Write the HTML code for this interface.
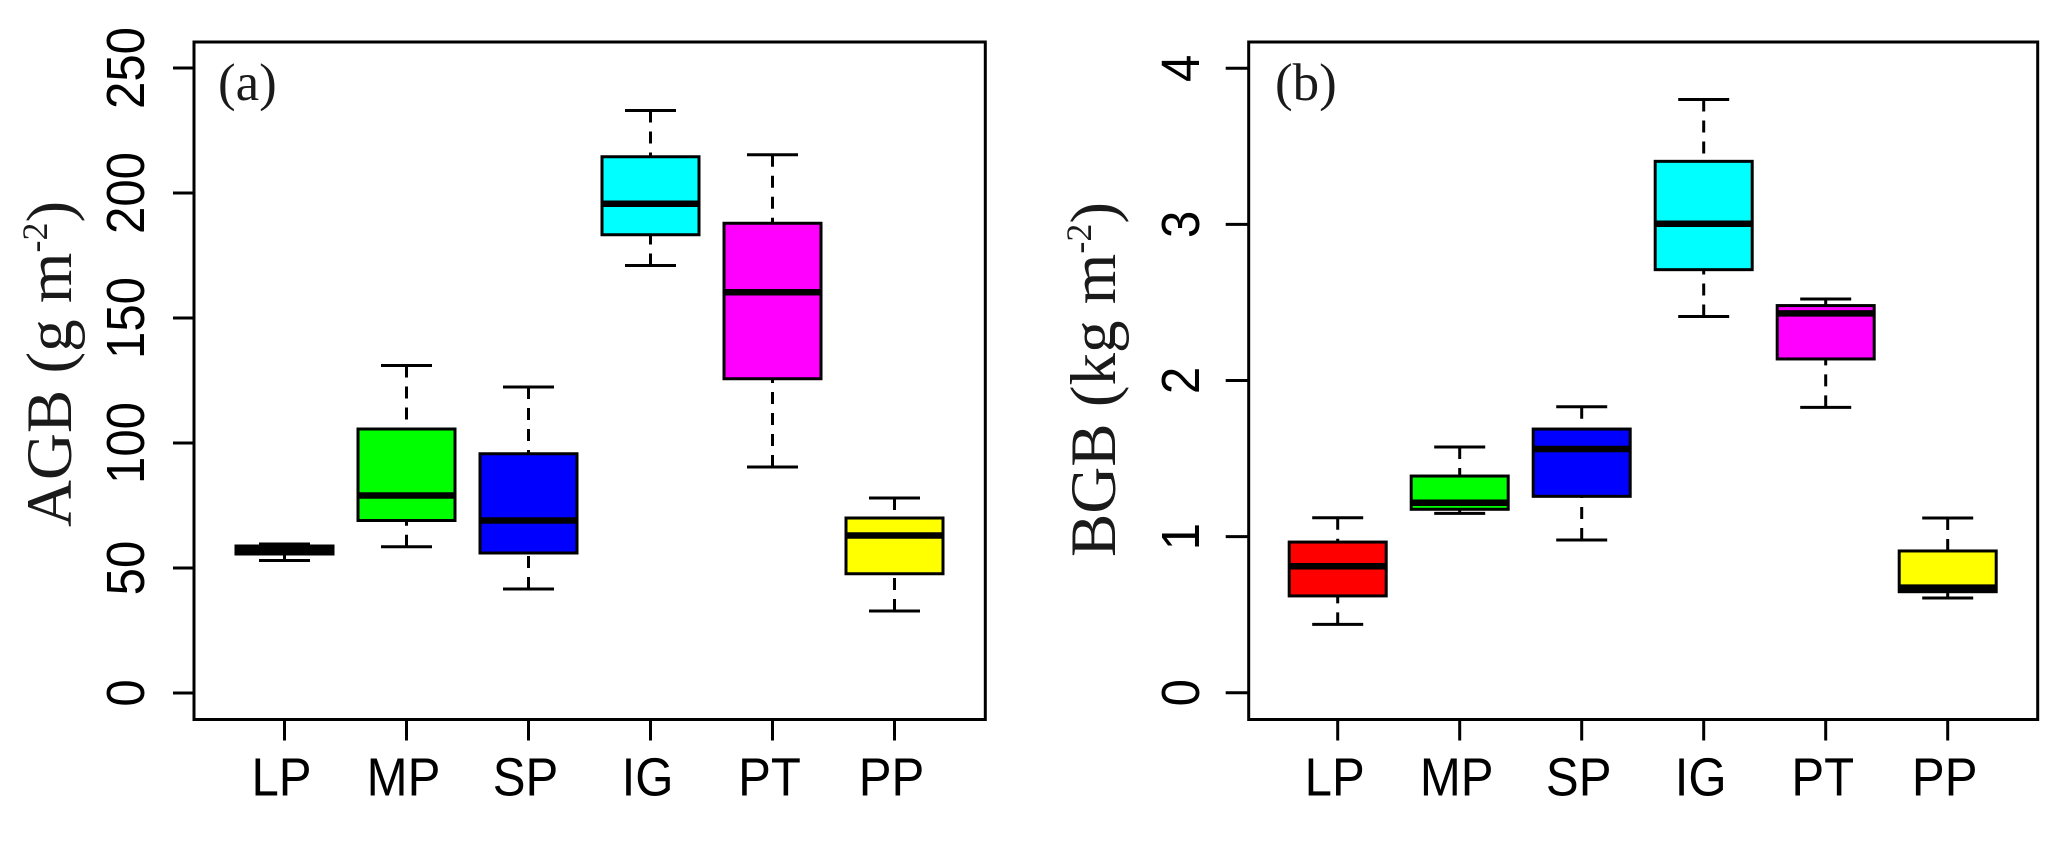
<!DOCTYPE html>
<html>
<head>
<meta charset="utf-8">
<title>AGB and BGB boxplots</title>
<style>
html,body{margin:0;padding:0;background:#fff;}
svg{display:block;}
.tick-label{font-family:"Liberation Sans",sans-serif;font-size:54px;fill:#000;}
.axis-title{font-family:"Liberation Serif",serif;font-size:65px;fill:#1a1a1a;}
.panel-label{font-family:"Liberation Serif",serif;font-size:53px;fill:#1a1a1a;}
</style>
</head>
<body>
<svg id="figure" xmlns="http://www.w3.org/2000/svg" width="2067" height="843" viewBox="0 0 2067 843">
  <rect x="0" y="0" width="2067" height="843" fill="#fff"/>
  <g id="panel-a">
    <rect x="194" y="42" width="791.3" height="677.5" fill="none" stroke="#000" stroke-width="3"/>
    <text class="panel-label" x="218" y="100">(a)</text>
    <text class="axis-title" transform="translate(71 527) rotate(-90)">AGB (g m<tspan font-size="36" dy="-24">-2</tspan><tspan dy="24">)</tspan></text>
  </g>
  <g id="panel-b">
    <rect x="1248.7" y="42" width="789" height="677.5" fill="none" stroke="#000" stroke-width="3"/>
    <text class="panel-label" x="1275" y="100">(b)</text>
    <text class="axis-title" transform="translate(1115 557) rotate(-90)">BGB (kg m<tspan font-size="36" dy="-24">-2</tspan><tspan dy="24">)</tspan></text>
  </g>
</svg>
<script>
var categories = ['LP', 'MP', 'SP', 'IG', 'PT', 'PP'];
var boxFills = ['#ff0000', '#00ff00', '#0000ff', '#00ffff', '#ff00ff', '#ffff00'];

var agbTicks = [0, 50, 100, 150, 200, 250];
var agbWhiskerHigh = [59.6, 131, 122.4, 233, 215.3, 78];
var agbQ3 = [58.8, 105.6, 95.7, 214.5, 187.9, 70];
var agbMedian = [57, 79, 69, 195.7, 160.3, 63];
var agbQ1 = [55.6, 69, 56, 183.3, 125.7, 47.7];
var agbWhiskerLow = [53, 58.5, 41.6, 171, 90.4, 32.8];

var bgbTicks = [0, 1, 2, 3, 4];
var bgbWhiskerHigh = [1.121, 1.574, 1.832, 3.8, 2.522, 1.119];
var bgbQ3 = [0.965, 1.388, 1.689, 3.404, 2.48, 0.908];
var bgbMedian = [0.81, 1.217, 1.561, 3.004, 2.43, 0.673];
var bgbQ1 = [0.62, 1.175, 1.258, 2.71, 2.138, 0.647];
var bgbWhiskerLow = [0.438, 1.149, 0.978, 2.41, 1.828, 0.607];

var SVG_NS = 'http://www.w3.org/2000/svg';

function shape(parent, tag, attrs) {
  var el = document.createElementNS(SVG_NS, tag);
  for (var k in attrs) { el.setAttribute(k, attrs[k]); }
  parent.appendChild(el);
  return el;
}

function drawPanel(cfg) {
  var parent = document.getElementById(cfg.id);
  var frameBottom = 719.5;
  var xOf = function (i) { return cfg.x0 + i * cfg.step; };
  var yOf = function (v) { return cfg.y0 - v * cfg.pxPerUnit; };

  cfg.ticks.forEach(function (t) {
    var y = yOf(t);
    var tick = shape(parent, 'line', {x1: cfg.left - cfg.tickLen, x2: cfg.left, y1: y, y2: y, stroke: '#000', 'stroke-width': 3});
    
    
    var label = shape(parent, 'text', {'class': 'tick-label', 'text-anchor': 'middle', transform: 'translate(' + cfg.tickLabelX + ' ' + y + ') rotate(-90) scale(0.91 1)'});
    
    
    label.textContent = String(t);
  });

  categories.forEach(function (cat, i) {
    var x = xOf(i);
    var xTick = shape(parent, 'line', {x1: x, x2: x, y1: frameBottom, y2: frameBottom + 21, stroke: '#000', 'stroke-width': 3});
    
    
    var xLabel = shape(parent, 'text', {'class': 'tick-label', 'text-anchor': 'middle', transform: 'translate(' + (x - 3) + ' 795.5) scale(0.91 1)'});
    
    
    xLabel.textContent = cat;

    var g = shape(parent, 'g', {});
    
    

    var yHi = yOf(cfg.high[i]), yQ3 = yOf(cfg.q3[i]), yMed = yOf(cfg.median[i]), yQ1 = yOf(cfg.q1[i]), yLo = yOf(cfg.low[i]);
    var dash = '12 9';
    var whiskerUp = shape(g, 'line', {x1: x, x2: x, y1: yHi, y2: yQ3, stroke: '#000', 'stroke-width': 3, 'stroke-dasharray': dash});
    
    
    var whiskerDown = shape(g, 'line', {x1: x, x2: x, y1: yLo, y2: yQ1, stroke: '#000', 'stroke-width': 3, 'stroke-dasharray': dash});
    
    
    var capUp = shape(g, 'line', {x1: x - 25.5, x2: x + 25.5, y1: yHi, y2: yHi, stroke: '#000', 'stroke-width': 3});
    
    
    var capDown = shape(g, 'line', {x1: x - 25.5, x2: x + 25.5, y1: yLo, y2: yLo, stroke: '#000', 'stroke-width': 3});
    
    
    var box = shape(g, 'rect', {x: x - 48.5, y: yQ3, width: 97, height: yQ1 - yQ3, fill: boxFills[i], stroke: '#000', 'stroke-width': 3});
    
    
    var med = shape(g, 'line', {x1: x - 48.5, x2: x + 48.5, y1: yMed, y2: yMed, stroke: '#000', 'stroke-width': 6.5});
    
    
  });
}

drawPanel({id: 'panel-a', prefix: 'agb', left: 194, tickLen: 21, x0: 284.5, step: 122, y0: 693, pxPerUnit: 2.5, tickLabelX: 144,
  ticks: agbTicks, high: agbWhiskerHigh, q3: agbQ3, median: agbMedian, q1: agbQ1, low: agbWhiskerLow});
drawPanel({id: 'panel-b', prefix: 'bgb', left: 1248.7, tickLen: 23, x0: 1337.7, step: 122, y0: 692.7, pxPerUnit: 156.1, tickLabelX: 1199,
  ticks: bgbTicks, high: bgbWhiskerHigh, q3: bgbQ3, median: bgbMedian, q1: bgbQ1, low: bgbWhiskerLow});
</script>
</body>
</html>
